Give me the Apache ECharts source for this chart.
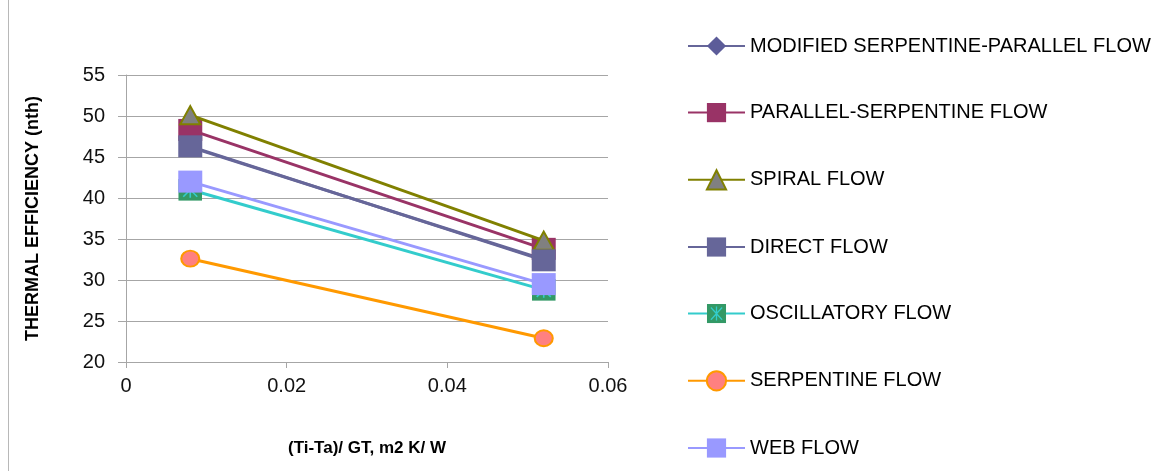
<!DOCTYPE html>
<html>
<head>
<meta charset="utf-8">
<script src="https://cdn.jsdelivr.net/npm/echarts@6/dist/echarts.min.js"></script>
<style>
html,body{margin:0;padding:0;background:#fff;}
#chart{width:1168px;height:471px;}
</style>
</head>
<body>
<div id="chart"></div>
<script>
// ---- data ----
const xValues = [0.008, 0.052];
const seriesNames = [
  'MODIFIED SERPENTINE-PARALLEL FLOW',
  'PARALLEL-SERPENTINE FLOW',
  'SPIRAL FLOW',
  'DIRECT FLOW',
  'OSCILLATORY FLOW',
  'SERPENTINE FLOW',
  'WEB FLOW'
];
const modifiedSerpParallel = [46.2, 32.5];
const parallelSerpentine = [48.3, 33.8];
const spiral = [50.1, 34.8];
const direct = [46.3, 32.4];
const oscillatory = [41.0, 28.8];
const serpentine = [32.6, 22.9];
const web = [42.0, 29.5];
const xTicks = [0, 0.02, 0.04, 0.06];
const yTicks = [20, 25, 30, 35, 40, 45, 50, 55];

const FONT = "'Liberation Sans', Arial, sans-serif";

const oscSvg = "data:image/svg+xml;utf8," + encodeURIComponent(
  "<svg xmlns='http://www.w3.org/2000/svg' width='24' height='22' viewBox='0 0 24 22'>" +
  "<rect width='24' height='22' fill='#339966'/>" +
  "<path d='M5 4L19 18M19 4L5 18M12 3V19' stroke='#33cccc' stroke-width='1.6' fill='none'/></svg>");

function pts(vals){ return xValues.map((x,i)=>[x, vals[i]]); }

const styles = [
  {data: modifiedSerpParallel, line:'#666699', symbol:'diamond', size:[14,14], color:'#5c5c99'},
  {data: parallelSerpentine, line:'#993366', symbol:'rect', size:[24,22], color:'#993366'},
  {data: spiral, line:'#808000', symbol:'triangle', size:[20,18], color:'#808080', border:'#808000', bw:2},
  {data: direct, line:'#666699', symbol:'rect', size:[24,22], color:'#666699'},
  {data: oscillatory, line:'#33cccc', symbol:'image://' + oscSvg, size:[24,22], color:'#339966'},
  {data: serpentine, line:'#ff9900', symbol:'circle', size:[18,16], color:'#ff8080', border:'#ff9900', bw:2},
  {data: web, line:'#9999ff', symbol:'rect', size:[24,22], color:'#9999ff'}
];

const series = styles.map((s,i)=>({
  name: seriesNames[i],
  type: 'line',
  data: pts(s.data),
  symbol: s.symbol,
  symbolSize: s.size,
  showAllSymbol: true,
  lineStyle: {color: s.line, width: 3},
  itemStyle: {color: s.color, borderColor: s.border || s.color, borderWidth: s.bw || 0},
  emphasis: {disabled: true},
  z: 2 + i
}));

const chart = echarts.init(document.getElementById('chart'));
chart.setOption({
  animation: false,
  backgroundColor: '#ffffff',
  textStyle: {fontFamily: FONT},
  graphic: [
    {type:'line', shape:{x1:8.5, y1:0, x2:8.5, y2:471}, style:{stroke:'#b8b8b8', lineWidth:1}, silent:true}
  ],
  grid: {left: 126, right: 560, top: 75, bottom: 109, containLabel: false},
  legend: {
    orient: 'vertical',
    left: 682,
    top: 31,
    itemWidth: 57,
    itemHeight: 24,
    itemGap: 46.6,
    textStyle: {fontSize: 20, color: '#000', fontFamily: FONT},
    data: seriesNames
  },
  xAxis: {
    type: 'value',
    min: xTicks[0],
    max: xTicks[xTicks.length-1],
    interval: 0.02,
    name: '(Ti-Ta)/ GT, m2 K/ W',
    nameLocation: 'middle',
    nameGap: 78,
    nameTextStyle: {fontSize: 17, fontWeight: 'bold', color: '#000', fontFamily: FONT},
    axisLine: {show: true, lineStyle: {color: '#a6a6a6', width: 1}},
    axisTick: {show: true, inside: false, length: 6, lineStyle: {color: '#a6a6a6'}},
    axisLabel: {fontSize: 20, color: '#111', margin: 14, fontFamily: FONT},
    splitLine: {show: false}
  },
  yAxis: {
    type: 'value',
    min: yTicks[0],
    max: yTicks[yTicks.length-1],
    interval: 5,
    name: 'THERMAL EFFICIENCY (nth)',
    nameLocation: 'middle',
    nameGap: 84,
    nameRotate: 90,
    nameTextStyle: {fontSize: 18, fontWeight: 'bold', color: '#000', fontFamily: FONT},
    axisLine: {show: true, lineStyle: {color: '#a6a6a6', width: 1}},
    axisTick: {show: true, inside: false, length: 8, lineStyle: {color: '#a6a6a6'}},
    axisLabel: {fontSize: 20, color: '#111', margin: 21, fontFamily: FONT},
    splitLine: {show: true, lineStyle: {color: '#a6a6a6', width: 1}}
  },
  series: series
});
</script>
</body>
</html>
